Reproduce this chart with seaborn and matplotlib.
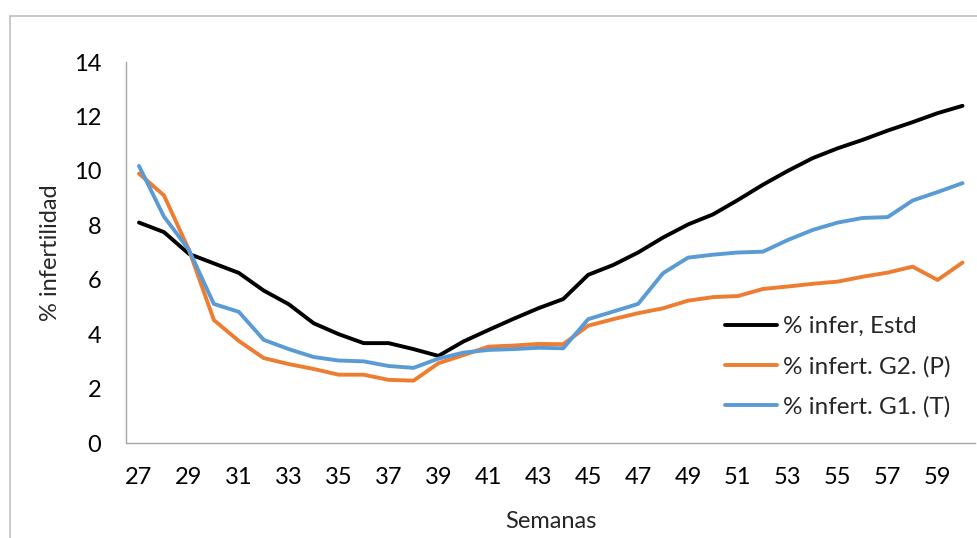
import matplotlib
matplotlib.use("Agg")
import matplotlib.pyplot as plt
import matplotlib.patches as mpatches
import seaborn as sns
import pandas as pd

# weeks on the x axis
weeks = list(range(27, 61))

# % infertility per week
infer_estd = [8.1, 7.75, 6.95, 6.6, 6.25, 5.6, 5.1, 4.4, 4.0, 3.67, 3.67, 3.45,
              3.2, 3.73, 4.15, 4.56, 4.95, 5.29, 6.18, 6.54, 7.0, 7.55, 8.03,
              8.4, 8.93, 9.49, 10.0, 10.47, 10.83, 11.14, 11.48, 11.79, 12.12, 12.39]
infert_g2 = [9.9, 9.1, 7.1, 4.52, 3.75, 3.12, 2.9, 2.72, 2.51, 2.51, 2.32, 2.29,
             2.93, 3.23, 3.54, 3.58, 3.64, 3.63, 4.31, 4.55, 4.77, 4.95, 5.23,
             5.36, 5.4, 5.66, 5.75, 5.85, 5.93, 6.11, 6.26, 6.48, 5.99, 6.63]
infert_g1 = [10.18, 8.32, 7.1, 5.11, 4.82, 3.79, 3.45, 3.16, 3.03, 3.0, 2.83, 2.76,
             3.1, 3.32, 3.42, 3.45, 3.5, 3.48, 4.55, 4.83, 5.11, 6.24, 6.81,
             6.92, 7.0, 7.03, 7.46, 7.83, 8.1, 8.27, 8.3, 8.91, 9.22, 9.55]

series_names = ["% infer, Estd", "% infert. G2. (P)", "% infert. G1. (T)"]
series_colors = ["#000000", "#ED7D31", "#5B9BD5"]

x_ticks = list(range(27, 60, 2))
y_ticks = list(range(0, 15, 2))

df = pd.concat([
    pd.DataFrame({"Semanas": weeks, "valor": vals, "serie": name})
    for name, vals in zip(series_names, [infer_estd, infert_g2, infert_g1])
])

sns.set_style("white")
plt.rcParams["font.family"] = ["Lato", "DejaVu Sans"]

W, H = 978, 538
fig = plt.figure(figsize=(W / 100, H / 100), dpi=100)
ax = fig.add_axes([126.5 / W, (H - 443) / H, 848.5 / W, 381 / H])

sns.lineplot(data=df, x="Semanas", y="valor", hue="serie",
             palette=dict(zip(series_names, series_colors)),
             linewidth=2.8, ax=ax, legend=False)

ax.set_xlim(26.5, 60.5)
ax.set_ylim(0, 14)
ax.set_xticks(x_ticks)
ax.set_yticks(y_ticks)
ax.tick_params(axis="both", length=0, labelsize=17, colors="#000000")
ax.tick_params(axis="y", pad=18)
ax.tick_params(axis="x", pad=17)
for s in ["top", "right"]:
    ax.spines[s].set_visible(False)
for s in ["left", "bottom"]:
    ax.spines[s].set_color("#A6A6A6")
    ax.spines[s].set_linewidth(1.0)

ax.set_xlabel("Semanas", fontsize=17, labelpad=17)
ax.set_ylabel("% infertilidad", fontsize=17, labelpad=9)

handles = [plt.Line2D([], [], color=c, lw=2.8) for c in series_colors]
fig.legend(handles, series_names, loc="center left",
           bbox_to_anchor=(725 / W, (H - 367) / H), frameon=False,
           fontsize=17.5, handlelength=2.15, handletextpad=0.25,
           labelspacing=0.78, borderpad=0, borderaxespad=0)

# outer chart frame (only left and top edges are visible in the crop)
fig.patches.append(mpatches.Rectangle((10 / W, -0.2), 2, (H - 16) / H + 0.2,
                                      transform=fig.transFigure, fill=False,
                                      edgecolor="#BFBFBF", linewidth=1.2))

fig.savefig("out.png", dpi=100)
